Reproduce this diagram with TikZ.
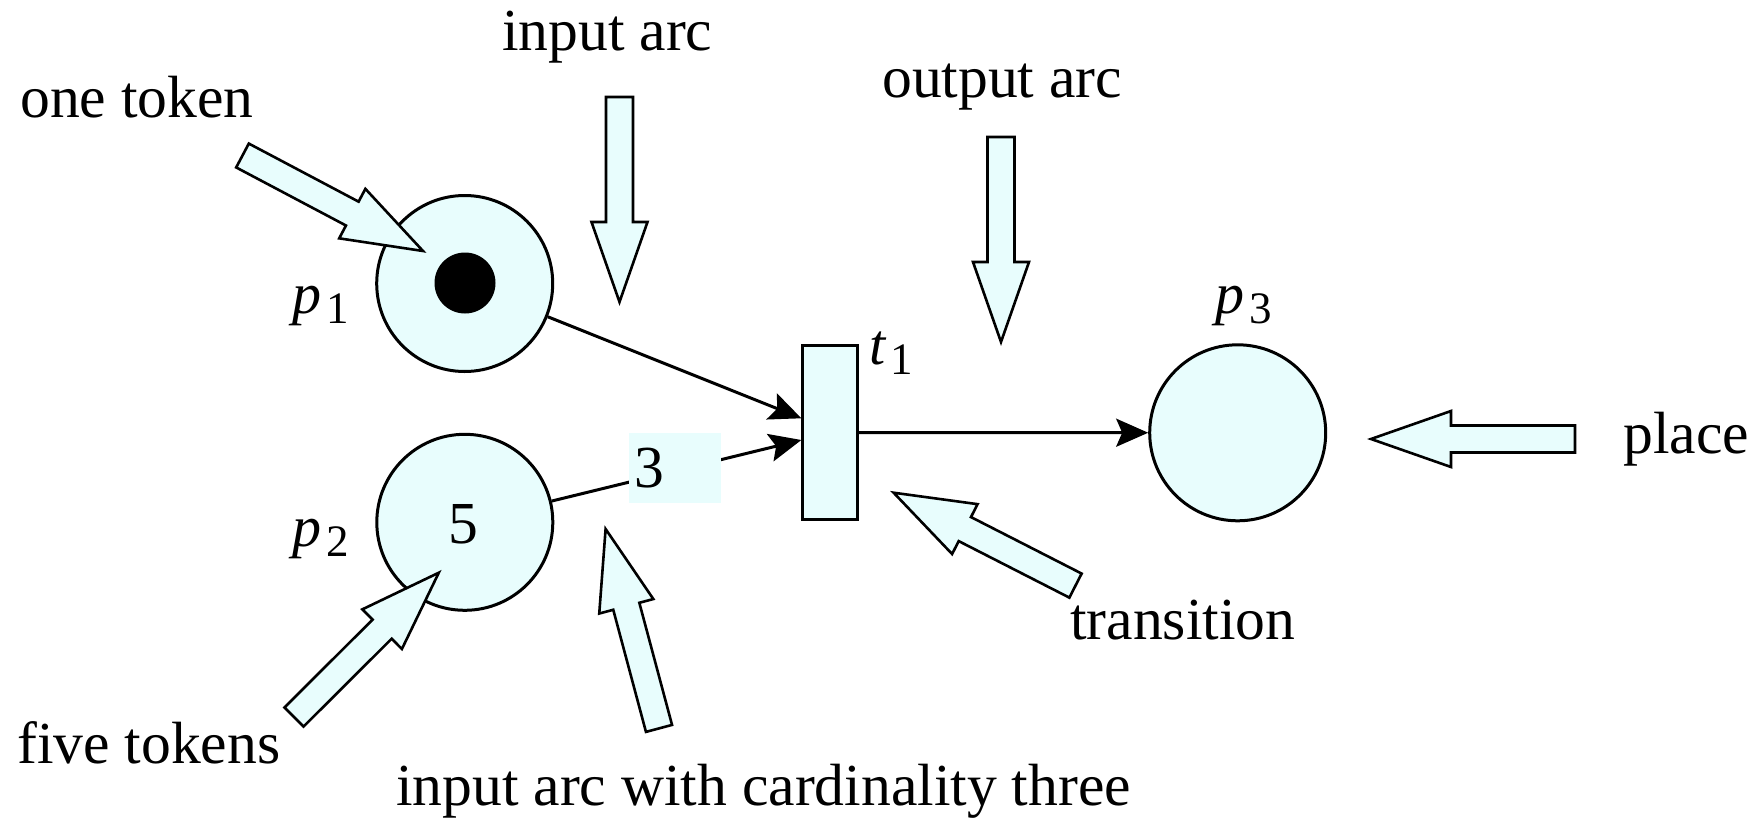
\documentclass[tikz,border=0pt]{standalone}
\usepackage{fontspec}
\setmainfont{Liberation Serif}
\usetikzlibrary{calc,arrows.meta}
\definecolor{pale}{RGB}{232,253,253}
\tikzset{
  place/.style={circle,draw,fill=pale,line width=3pt,minimum size=176pt,inner sep=0pt},
  trans/.style={rectangle,draw,fill=pale,line width=3pt,minimum width=54.8pt,minimum height=173.8pt,inner sep=0pt},
  arcline/.style={line width=3pt,-{Stealth[length=32pt,width=28pt,inset=6pt]}},
  txt/.style={inner sep=0pt,anchor=base west,font=\fontsize{59.6}{70}\selectfont},
  callout/.style={draw,fill=pale,line width=2.6pt,line join=miter},
}
\newcommand\pnlabel[2]{{\fontsize{58}{64}\selectfont\itshape #1}\kern5pt\raisebox{-10pt}{\fontsize{45}{50}\selectfont #2}}
\newcommand\blockarrow[2]{%
  \coordinate (h) at ($(#2)!80pt!(#1)$);
  \draw[callout] ($(#1)!13.5pt!90:(#2)$) -- ($(h)!13.5pt!90:(#2)$) -- ($(h)!28pt!90:(#2)$)
    -- (#2) -- ($(h)!28pt!-90:(#2)$) -- ($(h)!13.5pt!-90:(#2)$) -- ($(#1)!13.5pt!-90:(#2)$) -- cycle;}
\begin{document}
\begin{tikzpicture}[x=1pt,y=-1pt]
\useasboundingbox (0,0) rectangle (1764,819);
% places and transition
\node[place] (p1) at (464.7,283.5) {};
\node[place] (p2) at (464.8,522.3) {};
\node[place] (p3) at (1237.7,432.8) {};
\node[trans] (t1) at (830.3,432.5) {};
\node[circle,fill=black,minimum size=61pt,inner sep=0pt] (tok) at (465,283) {};
\node[inner sep=0pt,anchor=base,font=\fontsize{59.6}{70}\selectfont] (five) at (463,543) {5};
% labels
\node[inner sep=0pt,anchor=base west] (lp1) at (292,313) {\pnlabel{p}{1}};
\node[inner sep=0pt,anchor=base west] (lp2) at (292,546) {\pnlabel{p}{2}};
\node[inner sep=0pt,anchor=base west] (lp3) at (1215,313) {\pnlabel{p}{3}};
\node[inner sep=0pt,anchor=base west] (lt1) at (869,364) {\pnlabel{t}{1}};
% arcs
\coordinate (t1a) at ($(t1.west)+(0,-14.2)$);
\coordinate (t1b) at ($(t1.west)+(0,7.5)$);
\draw[arcline] (p1) -- (t1a);
\draw[arcline] (p2) -- (t1b);
\draw[arcline] (t1) -- (p3);
\node[fill=pale,text width=80.6pt,inner xsep=6pt,inner ysep=0pt,align=left,minimum height=69.4pt,font=\fontsize{59.6}{70}\selectfont] (card) at (675,468) {3};
% callout texts
\node[txt] (tin) at (502,50) {input arc};
\node[txt] (tone) at (20,117) {one token};
\node[txt] (tout) at (882,97) {output arc};
\node[txt] (tplace) at (1623,453) {place};
\node[txt] (ttrans) at (1070,639) {transition};
\node[txt] (tfive) at (17,763) {five tokens};
\node[txt] (tcard) at (396,805) {input arc with cardinality three};
% block arrows
\coordinate (a1t) at (242.5,155.5); \coordinate (a1p) at (423,251);
\coordinate (a2t) at (619.5,97);   \coordinate (a2p) at (619.5,302);
\coordinate (a3t) at (1001,137);   \coordinate (a3p) at (1001,342);
\coordinate (a4t) at (1575,439);   \coordinate (a4p) at (1371,439);
\coordinate (a5t) at (1075.5,585.6); \coordinate (a5p) at (893.6,492.7);
\coordinate (a6t) at (294,717);    \coordinate (a6p) at (438.8,572.7);
\coordinate (a7t) at (659,728.4);  \coordinate (a7p) at (605.6,529);
\blockarrow{a1t}{a1p}
\blockarrow{a2t}{a2p}
\blockarrow{a3t}{a3p}
\blockarrow{a4t}{a4p}
\blockarrow{a5t}{a5p}
\blockarrow{a6t}{a6p}
\blockarrow{a7t}{a7p}
\end{tikzpicture}
\end{document}
